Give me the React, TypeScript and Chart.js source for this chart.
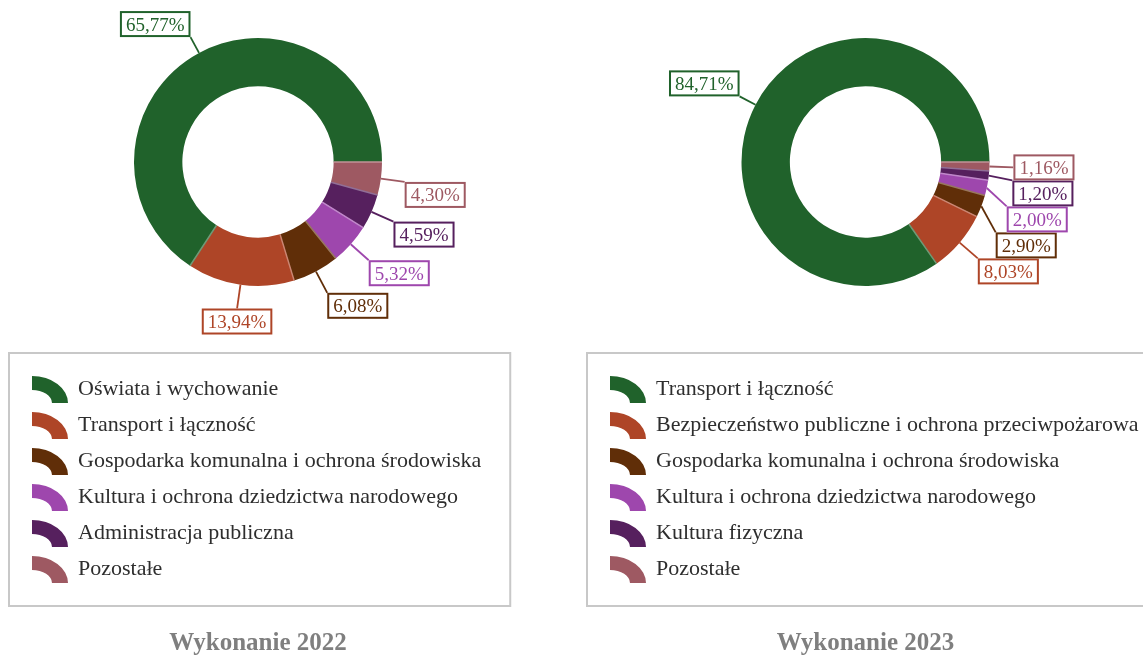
import React, { useEffect, useRef } from "react";
import { Chart, ArcElement, DoughnutController } from "chart.js";

Chart.register(ArcElement, DoughnutController);

const SERIF = '"Liberation Serif", "Times New Roman", serif';

// Budget execution structure (percent shares), listed in legend order
const categories2022 = [
  "Oświata i wychowanie",
  "Transport i łączność",
  "Gospodarka komunalna i ochrona środowiska",
  "Kultura i ochrona dziedzictwa narodowego",
  "Administracja publiczna",
  "Pozostałe",
];
const shares2022 = [65.77, 13.94, 6.08, 5.32, 4.59, 4.3];

const categories2023 = [
  "Transport i łączność",
  "Bezpieczeństwo publiczne i ochrona przeciwpożarowa",
  "Gospodarka komunalna i ochrona środowiska",
  "Kultura i ochrona dziedzictwa narodowego",
  "Kultura fizyczna",
  "Pozostałe",
];
const shares2023 = [84.71, 8.03, 2.9, 2.0, 1.2, 1.16];

const sliceColors = ["#20622b", "#ae4527", "#602e08", "#9e47ad", "#56205e", "#9e5962"];

const caption2022 = "Wykonanie 2022";
const caption2023 = "Wykonanie 2023";

const CANVAS_H = 658;
const CENTER_Y = 162;
const OUTER_R = 124;
const LABEL_H = 26;

// leader length depends on which edge of the label box it meets
function leaderRadius(vA: string) {
  return OUTER_R + (vA === "bottom" ? 18 : 24);
}

function tint(hex: string, k: number) {
  const n = parseInt(hex.slice(1), 16);
  const r = (n >> 16) & 255, g = (n >> 8) & 255, b = n & 255;
  const m = (c: number) => Math.round(c + (255 - c) * k);
  return `rgb(${m(r)},${m(g)},${m(b)})`;
}

function pct(v: number) {
  return v.toFixed(2).replace(".", ",") + "%";
}

type Opts = {
  categories: string[];
  shares: number[];
  caption: string;
  centerX: number;
};

function decorPlugin(o: Opts) {
  return {
    id: "ringDecor",
    afterDatasetsDraw(chart: any) {
      const ctx: CanvasRenderingContext2D = chart.ctx;
      const arcs = chart.getDatasetMeta(0).data as any[];
      const n = o.shares.length;
      ctx.save();

      // thin light seams along each slice's leading edge
      arcs.forEach((arc, j) => {
        const i = n - 1 - j;
        const { x, y, startAngle, innerRadius, outerRadius } = arc;
        const c = Math.cos(startAngle), s = Math.sin(startAngle);
        ctx.beginPath();
        ctx.moveTo(x + innerRadius * c, y + innerRadius * s);
        ctx.lineTo(x + outerRadius * c, y + outerRadius * s);
        ctx.strokeStyle = tint(sliceColors[i], 0.35);
        ctx.lineWidth = 1.5;
        ctx.stroke();
      });

      // value labels with leader lines
      ctx.font = `19px ${SERIF}`;
      const labels = arcs.map((arc, j) => {
        const i = n - 1 - j;
        const { x, y, startAngle, endAngle, outerRadius } = arc;
        const mid = (startAngle + endAngle) / 2;
        const vx = Math.cos(mid), vy = Math.sin(mid);
        const text = pct(o.shares[i]);
        const w = ctx.measureText(text).width + 12;
        const h = LABEL_H;
        const hA = vx > 0.3 ? "left" : vx < -0.3 ? "right" : "center";
        const vA = vy > 0.08 ? "top" : vy < -0.08 ? "bottom" : "middle";
        const lr = leaderRadius(vA);
        const ax = x + lr * vx;
        const ay = y + lr * vy;
        const top = vA === "top" ? ay : vA === "middle" ? ay - h / 2 : ay - h;
        return {
          i, text, w, h, hA, vA, vx, vy, lr, cx: x, cy: y,
          px: x + outerRadius * vx, py: y + outerRadius * vy,
          ax, ay, top, color: sliceColors[i],
        };
      });

      // push overlapping labels downward, sliding anchors along the label circle
      const sides = [labels.filter((l) => l.vx >= 0), labels.filter((l) => l.vx < 0)];
      sides.forEach((group, side) => {
        group.sort((a, b) => a.top - b.top);
        for (let k = 1; k < group.length; k++) {
          const prev = group[k - 1];
          const cur = group[k];
          if (cur.top < prev.top + prev.h) {
            cur.top = prev.top + prev.h;
            cur.ay = cur.vA === "top" ? cur.top : cur.vA === "middle" ? cur.top + cur.h / 2 : cur.top + cur.h;
            const dy = cur.ay - cur.cy;
            const dx = Math.sqrt(Math.max(cur.lr * cur.lr - dy * dy, 0));
            cur.ax = side === 0 ? cur.cx + dx : cur.cx - dx;
          }
        }
      });

      labels.forEach((l) => {
        ctx.beginPath();
        ctx.moveTo(l.px, l.py);
        ctx.lineTo(l.ax, l.ay);
        ctx.strokeStyle = l.color;
        ctx.lineWidth = 1.8;
        ctx.stroke();
      });

      const drawOrder = [...labels].sort((a, b) => a.i - b.i);
      drawOrder.forEach((l) => {
        const left = l.hA === "left" ? l.ax : l.hA === "right" ? l.ax - l.w : l.ax - l.w / 2;
        ctx.fillStyle = "#ffffff";
        ctx.fillRect(left, l.top, l.w, l.h);
        ctx.strokeStyle = l.color;
        ctx.lineWidth = 2;
        ctx.strokeRect(left + 1, l.top + 1, l.w - 2, l.h - 2);
        ctx.fillStyle = l.color;
        ctx.textAlign = "center";
        ctx.textBaseline = "alphabetic";
        ctx.fillText(l.text, left + l.w / 2, l.top + 19.5);
      });

      // legend box
      ctx.font = `22px ${SERIF}`;
      const maxText = Math.max(...o.categories.map((c) => ctx.measureText(c).width));
      const boxX = 8, boxTop = 352, boxBottom = 607;
      const boxW = 70 + maxText + 30;
      ctx.strokeStyle = "#c8c8c8";
      ctx.lineWidth = 2;
      ctx.strokeRect(boxX + 1, boxTop + 1, boxW - 2, boxBottom - boxTop - 2);

      o.categories.forEach((cat, i) => {
        const iconTop = boxTop + 24 + i * 36;
        const ix = boxX + 24;
        const iy = iconTop + 27;
        ctx.beginPath();
        ctx.ellipse(ix, iy, 36, 27, 0, -Math.PI / 2, 0);
        ctx.ellipse(ix, iy, 20, 13, 0, 0, -Math.PI / 2, true);
        ctx.closePath();
        ctx.fillStyle = sliceColors[i];
        ctx.fill();

        ctx.fillStyle = "#2e2e2e";
        ctx.textAlign = "left";
        ctx.textBaseline = "alphabetic";
        ctx.fillText(cat, boxX + 70, boxTop + 42.5 + i * 36);
      });

      // caption
      ctx.font = `bold 25px ${SERIF}`;
      ctx.fillStyle = "#7f7f7f";
      ctx.textAlign = "center";
      ctx.fillText(o.caption, o.centerX, 650);

      ctx.restore();
    },
  };
}

type RingProps = {
  left: number;
  width: number;
  centerX: number;
  categories: string[];
  shares: number[];
  caption: string;
};

function Ring({ left, width, centerX, categories, shares, caption }: RingProps) {
  const ref = useRef<HTMLCanvasElement>(null);
  useEffect(() => {
    const canvas = ref.current!;
    const order = shares.map((_, k) => shares.length - 1 - k);
    const chart = new Chart(canvas, {
      type: "doughnut",
      data: {
        labels: order.map((i) => categories[i]),
        datasets: [
          {
            data: order.map((i) => shares[i]),
            backgroundColor: order.map((i) => sliceColors[i]),
            borderWidth: 0,
            hoverOffset: 0,
            offset: 0,
          },
        ],
      },
      options: {
        responsive: false,
        animation: false,
        devicePixelRatio: 1,
        rotation: 90,
        cutout: "61%",
        events: [],
        layout: {
          padding: {
            left: centerX - OUTER_R,
            right: width - (centerX + OUTER_R),
            top: CENTER_Y - OUTER_R,
            bottom: CANVAS_H - (CENTER_Y + OUTER_R),
          },
        },
        plugins: { legend: { display: false }, tooltip: { enabled: false } },
      } as any,
      plugins: [decorPlugin({ categories, shares, caption, centerX })],
    });
    return () => chart.destroy();
  }, []);
  return (
    <canvas
      ref={ref}
      width={width}
      height={CANVAS_H}
      style={{ position: "absolute", left, top: 0, width, height: CANVAS_H }}
    />
  );
}

export default function App() {
  return (
    <div
      style={{
        position: "fixed",
        left: 0,
        top: 0,
        width: 1143,
        height: 658,
        overflow: "hidden",
        background: "#ffffff",
      }}
    >
      <Ring left={0} width={578} centerX={258} categories={categories2022} shares={shares2022} caption={caption2022} />
      <Ring left={578} width={620} centerX={287.5} categories={categories2023} shares={shares2023} caption={caption2023} />
    </div>
  );
}
